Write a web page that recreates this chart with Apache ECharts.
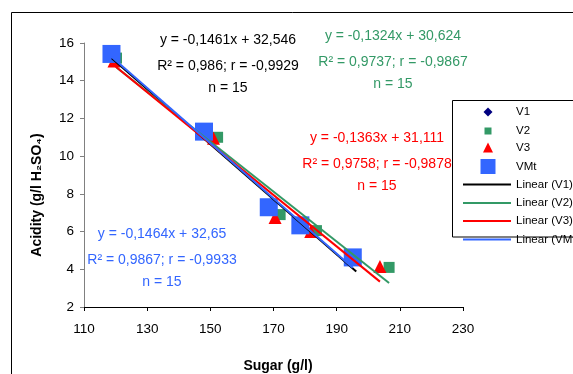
<!DOCTYPE html>
<html>
<head>
<meta charset="utf-8">
<script src="https://cdn.jsdelivr.net/npm/echarts@6/dist/echarts.min.js"></script>
<style>
  html, body { margin: 0; padding: 0; background: #fff; }
  #chart { width: 573px; height: 374px; }
</style>
</head>
<body>
<div id="chart"></div>
<script>
// values (sugar g/l, acidity g/l H2SO4)
var sugarV1 = [118.8, 148.5, 168.2, 178.3, 196.2];
var acidV1 = [15.3, 11.2, 7.3, 6.3, 4.6];
var sugarV2 = [120.3, 152.3, 172.1, 183.6, 206.6];
var acidV2 = [15.2, 11.0, 6.9, 6.05, 4.1];
var sugarV3 = [119.5, 151.0, 170.5, 181.8, 203.7];
var acidV3 = [15.05, 10.95, 6.75, 6.0, 4.15];
var sugarVMt = [118.7, 148.0, 168.5, 178.5, 195.1];
var acidVMt = [15.42, 11.3, 7.29, 6.33, 4.63];

// trend line coefficients as printed on the chart
var slopes = [-0.1461, -0.1324, -0.1363, -0.1464];
var intercepts = [32.546, 30.624, 31.111, 32.65];

var seriesNames = ['V1', 'V2', 'V3', 'VMt'];
var trendNames = ['Linear (V1)', 'Linear (V2)', 'Linear (V3)', 'Linear (VMt)'];
var markerColors = ['#000080', '#339966', '#ff0000', '#3366ff'];
var lineColors = ['#000000', '#339966', '#ff0000', '#3366ff'];
var eqTexts = [
  ['y = -0,1461x + 32,546', 'R² = 0,986; r = -0,9929', 'n = 15'],
  ['y = -0,1324x + 30,624', 'R² = 0,9737; r = -0,9867', 'n = 15'],
  ['y = -0,1363x + 31,111', 'R² = 0,9758; r = -0,9878', 'n = 15'],
  ['y = -0,1464x + 32,65', 'R² = 0,9867; r = -0,9933', 'n = 15']
];

var chartDom = document.getElementById('chart');
var myChart = echarts.init(chartDom);
var option;

var xs = [sugarV1, sugarV2, sugarV3, sugarVMt];
var ys = [acidV1, acidV2, acidV3, acidVMt];
var symbols = ['diamond', 'rect', 'triangle', 'rect'];
var symbolSizes = [10, 11, 13, 18];

var series = [];
for (var i = 0; i < 4; i++) {
  series.push({
    name: seriesNames[i],
    type: 'scatter',
    symbol: symbols[i],
    symbolSize: symbolSizes[i],
    itemStyle: { color: markerColors[i], opacity: 1 },
    data: xs[i].map(function (x, k) { return [x, ys[this][k]]; }, i)
  });
}
for (var j = 0; j < 4; j++) {
  var x0 = Math.min.apply(null, xs[j]);
  var x1 = Math.max.apply(null, xs[j]);
  series.push({
    name: trendNames[j],
    type: 'line',
    symbol: 'none',
    z: 3,
    lineStyle: { color: lineColors[j], width: 2 },
    itemStyle: { color: lineColors[j] },
    data: [[x0, slopes[j] * x0 + intercepts[j]], [x1, slopes[j] * x1 + intercepts[j]]]
  });
}

// equation labels (centre x, y of each of the three lines)
var eqPos = [
  [228, [40, 66, 88]],
  [393, [36, 62, 84]],
  [377, [138, 164, 186]],
  [162, [234, 260, 282]]
];
var graphics = [{
  type: 'rect',
  shape: { x: 11.5, y: 12.5, width: 700, height: 500 },
  style: { fill: null, stroke: '#000', lineWidth: 1 }
}];
eqPos.forEach(function (p, i) {
  p[1].forEach(function (yy, k) {
    graphics.push({
      type: 'text', x: p[0], y: yy,
      style: {
        text: eqTexts[i][k], fill: lineColors[i],
        font: '14px "Liberation Sans"', textAlign: 'center', textVerticalAlign: 'middle'
      }
    });
  });
});
// legend box
graphics.push({
  type: 'rect',
  shape: { x: 452.5, y: 100.5, width: 200, height: 136.5 },
  style: { fill: '#fff', stroke: '#000', lineWidth: 1 }
});

// legend rows: icon centre y, icon size
var legendNames = seriesNames.concat(trendNames);
var legendCy = [110.5, 128.5, 146.5, 166.5, 179.5, 198, 216, 234.5];
var legendIconW = [9, 7, 10, 15, 48, 48, 48, 48];
var legendIconH = [9, 7, 10, 15, 2, 2, 2, 2];
var legends = legendNames.map(function (n, i) {
  var w = legendIconW[i];
  var left = i < 4 ? 488 - w / 2 : 463;
  var pad = 516 - (left + w + 5);
  return {
    data: [i < 4 ? n : { name: n, icon: 'rect' }],
    left: left,
    top: legendCy[i] - legendIconH[i] / 2,
    padding: 0,
    itemWidth: w,
    itemHeight: legendIconH[i],
    textStyle: { fontSize: 11.5, color: '#000', fontFamily: 'Liberation Sans', padding: [0, 0, 0, pad] }
  };
});

option = {
  animation: false,
  backgroundColor: '#fff',
  grid: { left: 84, right: 110, top: 43, bottom: 67, containLabel: false, outerBoundsMode: 'none' },
  legend: legends,
  xAxis: {
    type: 'value',
    min: 110, max: 230, interval: 20,
    name: 'Sugar (g/l)',
    nameLocation: 'middle',
    nameGap: 52.5,
    nameTextStyle: { fontSize: 14, fontWeight: 'bold', color: '#000', fontFamily: 'Liberation Sans', padding: [0, 0, 0, 9] },
    axisLine: { lineStyle: { color: '#000', width: 1 } },
    axisTick: { length: 4, lineStyle: { color: '#000' } },
    axisLabel: { fontSize: 13.5, color: '#000', fontFamily: 'Liberation Sans', margin: 15 },
    splitLine: { show: false }
  },
  yAxis: {
    type: 'value',
    min: 2, max: 16, interval: 2,
    name: 'Acidity (g/l H₂SO₄)',
    nameLocation: 'middle',
    nameGap: 40,
    nameTextStyle: { fontSize: 14, fontWeight: 'bold', color: '#000', fontFamily: 'Liberation Sans', padding: [0, 40, 0, 0] },
    axisLine: { show: true, lineStyle: { color: '#808080', width: 1 } },
    axisTick: { show: true, length: 4, lineStyle: { color: '#808080' } },
    axisLabel: { fontSize: 13.5, color: '#000', fontFamily: 'Liberation Sans', margin: 10 },
    splitLine: { show: false }
  },
  graphic: graphics,
  series: series
};

myChart.setOption(option);
</script>
</body>
</html>
